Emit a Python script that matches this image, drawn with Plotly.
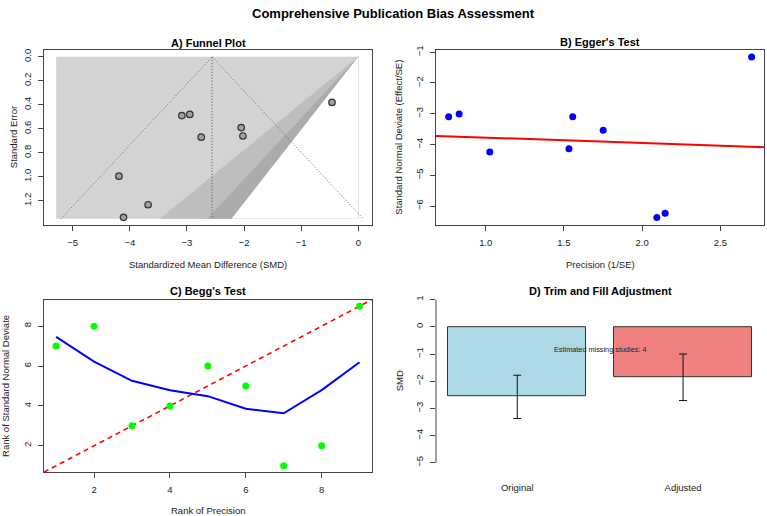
import plotly.graph_objects as go

W, H = 767, 516
FONT = "Liberation Sans, Arial, Helvetica, sans-serif"

# ---------------- DATA ----------------
# A) Funnel plot
funnel_smd = [-0.46, -3.09, -2.95, -2.75, -2.05, -2.02, -4.19, -3.68, -4.11]
funnel_se = [0.38, 0.49, 0.48, 0.67, 0.59, 0.66, 0.995, 1.233, 1.338]
pooled_smd = -2.56
funnel_se_max = 1.3495
funnel_x_min = -5.29
contour_z = [2.576, 1.96, 1.645]          # p = 0.01, 0.05, 0.10
contour_colors = ["#BEBEBE", "#ABABAB", "#FFFFFF"]
back_color = "#D3D3D3"
ci_z = 1.96

# B) Egger's test
egger_precision = [0.763, 0.830, 1.026, 1.532, 1.556, 1.751, 2.094, 2.147, 2.700]
egger_snd = [-3.10, -3.01, -4.24, -4.14, -3.10, -3.54, -6.375, -6.235, -1.16]
egger_intercept = -3.60
egger_slope = -0.175

# C) Begg's test
begg_rank_prec = [1, 2, 3, 4, 5, 6, 7, 8, 9]
begg_rank_snd = [7, 8, 3, 4, 6, 5, 1, 2, 9]
begg_smooth_x = [1, 2, 3, 4, 5, 6, 7, 8, 9]
begg_smooth_y = [7.46, 6.22, 5.26, 4.79, 4.49, 3.86, 3.63, 4.79, 6.19]

# D) Trim and fill
tf_labels = ["Original", "Adjusted"]
tf_pos = [0.7, 1.9]
tf_smd = [-2.555, -1.84]
tf_ci_low = [-3.37, -2.71]
tf_ci_high = [-1.78, -1.00]
tf_colors = ["#ADD8E6", "#F08080"]
tf_note = "Estimated missing studies: 4"

# ---------------- LAYOUT HELPERS ----------------
def dom_x(a, b):
    return [a / W, b / W]

def dom_y(top, bottom):
    return [1 - bottom / H, 1 - top / H]

AX = "#444444"
TXT = "#222222"

def axis_common(**kw):
    d = dict(showgrid=False, zeroline=False, showline=True, linecolor=AX,
             linewidth=1, mirror=True, ticks="outside", ticklen=5,
             tickcolor=AX, tickwidth=1,
             tickfont=dict(family=FONT, size=9.5, color=TXT))
    d.update(kw)
    return d

fig = go.Figure()

# ---------------- A) FUNNEL ----------------
se0 = 0.0
fig.add_trace(go.Scatter(
    x=[funnel_x_min, 0, 0, funnel_x_min, funnel_x_min],
    y=[se0, se0, funnel_se_max, funnel_se_max, se0],
    fill="toself", fillcolor=back_color, line=dict(width=0), mode="lines",
    hoverinfo="skip", showlegend=False, xaxis="x", yaxis="y"))
for z, col in zip(contour_z, contour_colors):
    fig.add_trace(go.Scatter(
        x=[0, -z * funnel_se_max, 0, 0],
        y=[se0, funnel_se_max, funnel_se_max, se0],
        fill="toself", fillcolor=col, line=dict(width=0), mode="lines",
        hoverinfo="skip", showlegend=False, xaxis="x", yaxis="y"))
fig.add_trace(go.Scatter(
    x=[pooled_smd - ci_z * funnel_se_max, pooled_smd, pooled_smd + ci_z * funnel_se_max],
    y=[funnel_se_max, se0, funnel_se_max],
    mode="lines", line=dict(color="#666666", width=1, dash="1px,2px"),
    hoverinfo="skip", showlegend=False, xaxis="x", yaxis="y"))
fig.add_trace(go.Scatter(
    x=[pooled_smd, pooled_smd], y=[se0, funnel_se_max],
    mode="lines", line=dict(color="#555555", width=1, dash="1px,2px"),
    hoverinfo="skip", showlegend=False, xaxis="x", yaxis="y"))
fig.add_trace(go.Scatter(
    x=funnel_smd, y=funnel_se, mode="markers",
    marker=dict(size=6.5, color="#A0A0A0", line=dict(color="#333333", width=1.2)),
    showlegend=False, xaxis="x", yaxis="y"))

# ---------------- B) EGGER ----------------
bx = [0.682, 2.781]
fig.add_trace(go.Scatter(
    x=bx, y=[egger_intercept + egger_slope * v for v in bx],
    mode="lines", line=dict(color="#FF0000", width=2),
    showlegend=False, xaxis="x2", yaxis="y2"))
fig.add_trace(go.Scatter(
    x=egger_precision, y=egger_snd, mode="markers",
    marker=dict(size=7, color="#0000FF"),
    showlegend=False, xaxis="x2", yaxis="y2"))

# ---------------- C) BEGG ----------------
cr = [0.68, 9.32]
fig.add_trace(go.Scatter(
    x=cr, y=cr, mode="lines", line=dict(color="#FF0000", width=1.6, dash="5px,4px"),
    showlegend=False, xaxis="x3", yaxis="y3"))
fig.add_trace(go.Scatter(
    x=begg_smooth_x, y=begg_smooth_y, mode="lines",
    line=dict(color="#0000FF", width=2),
    showlegend=False, xaxis="x3", yaxis="y3"))
fig.add_trace(go.Scatter(
    x=begg_rank_prec, y=begg_rank_snd, mode="markers",
    marker=dict(size=7, color="#00FF00"),
    showlegend=False, xaxis="x3", yaxis="y3"))

# ---------------- D) TRIM AND FILL ----------------
fig.add_trace(go.Bar(
    x=tf_pos, y=tf_smd, width=1.0,
    marker=dict(color=tf_colors, line=dict(color="#333333", width=1)),
    error_y=dict(type="data", symmetric=False,
                 array=[h - m for h, m in zip(tf_ci_high, tf_smd)],
                 arrayminus=[m - l for m, l in zip(tf_smd, tf_ci_low)],
                 color="#111111", thickness=1, width=4),
    showlegend=False, xaxis="x4", yaxis="y4"))

# ---------------- AXES ----------------
A_x = dom_x(44, 371.7)
B_x = dom_x(436, 764.3)
top_y = dom_y(45.7, 222.3)
C_y = dom_y(297.7, 471.7)
D_y = dom_y(291.0, 471.7)

layout = dict(
    width=W, height=H, margin=dict(l=0, r=0, t=0, b=0),
    paper_bgcolor="white", plot_bgcolor="white",
    font=dict(family=FONT, color=TXT),
    bargap=0,
    xaxis=axis_common(domain=A_x, anchor="y", range=[-5.503, 0.235],
                      tickvals=[-5, -4, -3, -2, -1, 0], ticklabelstandoff=3),
    yaxis=axis_common(domain=top_y, anchor="x", range=[1.403, -0.0545],
                      tickvals=[0, 0.2, 0.4, 0.6, 0.8, 1.0, 1.2], tickformat=".1f",
                      tickangle=-90, ticklabelstandoff=3),
    xaxis2=axis_common(domain=B_x, anchor="y2", range=[0.682, 2.781],
                       tickvals=[1.0, 1.5, 2.0, 2.5], tickformat=".1f", ticklabelstandoff=3),
    yaxis2=axis_common(domain=top_y, anchor="x2", range=[-6.62, -0.937],
                       tickvals=[-6, -5, -4, -3, -2, -1], tickangle=-90, ticklabelstandoff=3),
    xaxis3=axis_common(domain=A_x, anchor="y3", range=cr,
                       tickvals=[2, 4, 6, 8], ticklabelstandoff=3),
    yaxis3=axis_common(domain=C_y, anchor="x3", range=cr,
                       tickvals=[2, 4, 6, 8], tickangle=-90, ticklabelstandoff=3),
    xaxis4=dict(domain=B_x, anchor="y4", range=[0.112, 2.488], showgrid=False,
                zeroline=False, showline=False, ticks="", tickvals=tf_pos,
                ticktext=tf_labels, ticklabelstandoff=8,
                tickfont=dict(family=FONT, size=9.5, color=TXT)),
    yaxis4=dict(domain=D_y, anchor="x4", range=[-5.342, 1.237], showgrid=False,
                zeroline=False, showline=False, ticks="outside", ticklen=5,
                tickcolor=AX, tickwidth=1, tickvals=[-5, -4, -3, -2, -1, 0, 1],
                tickangle=-90, ticklabelstandoff=3,
                tickfont=dict(family=FONT, size=9.5, color=TXT)),
)
fig.update_layout(**layout)

fig.add_shape(type="line", xref="x4 domain", yref="y4", x0=0, x1=0,
              y0=-5, y1=1, line=dict(color=AX, width=1))

def ann(text, x, y, size, bold=False, angle=0, color="#000000"):
    fig.add_annotation(text=("<b>%s</b>" % text) if bold else text,
                       x=x / W, y=1 - y / H, xref="paper", yref="paper",
                       showarrow=False, textangle=angle, xanchor="center",
                       yanchor="middle",
                       font=dict(family=FONT, size=size, color=color))

ann("Comprehensive Publication Bias Assessment", 393, 9, 13, bold=True)
ann("A) Funnel Plot", 208, 38.5, 11, bold=True)
ann("B) Egger's Test", 600, 37.5, 11, bold=True)
ann("C) Begg's Test", 208, 288.5, 11, bold=True)
ann("D) Trim and Fill Adjustment", 600, 289, 11, bold=True)

ann("Standardized Mean Difference (SMD)", 208, 262, 9.5, color=TXT)
ann("Precision (1/SE)", 600, 262, 9.5, color=TXT)
ann("Rank of Precision", 208, 510, 9.5, color=TXT)
ann("Standard Error", 13.5, 134, 9.5, angle=-90, color=TXT)
ann("Standard Normal Deviate (Effect/SE)", 399, 134, 9.5, angle=-90, color=TXT)
ann("Rank of Standard Normal Deviate", 6, 384.7, 9.5, angle=-90, color=TXT)
ann("SMD", 399, 380, 9.5, angle=-90, color=TXT)

fig.add_annotation(text=tf_note, x=1.3, y=-0.83, xref="x4", yref="y4",
                   showarrow=False, font=dict(family=FONT, size=7.3, color="#222222"))

fig.write_html("out.html")
